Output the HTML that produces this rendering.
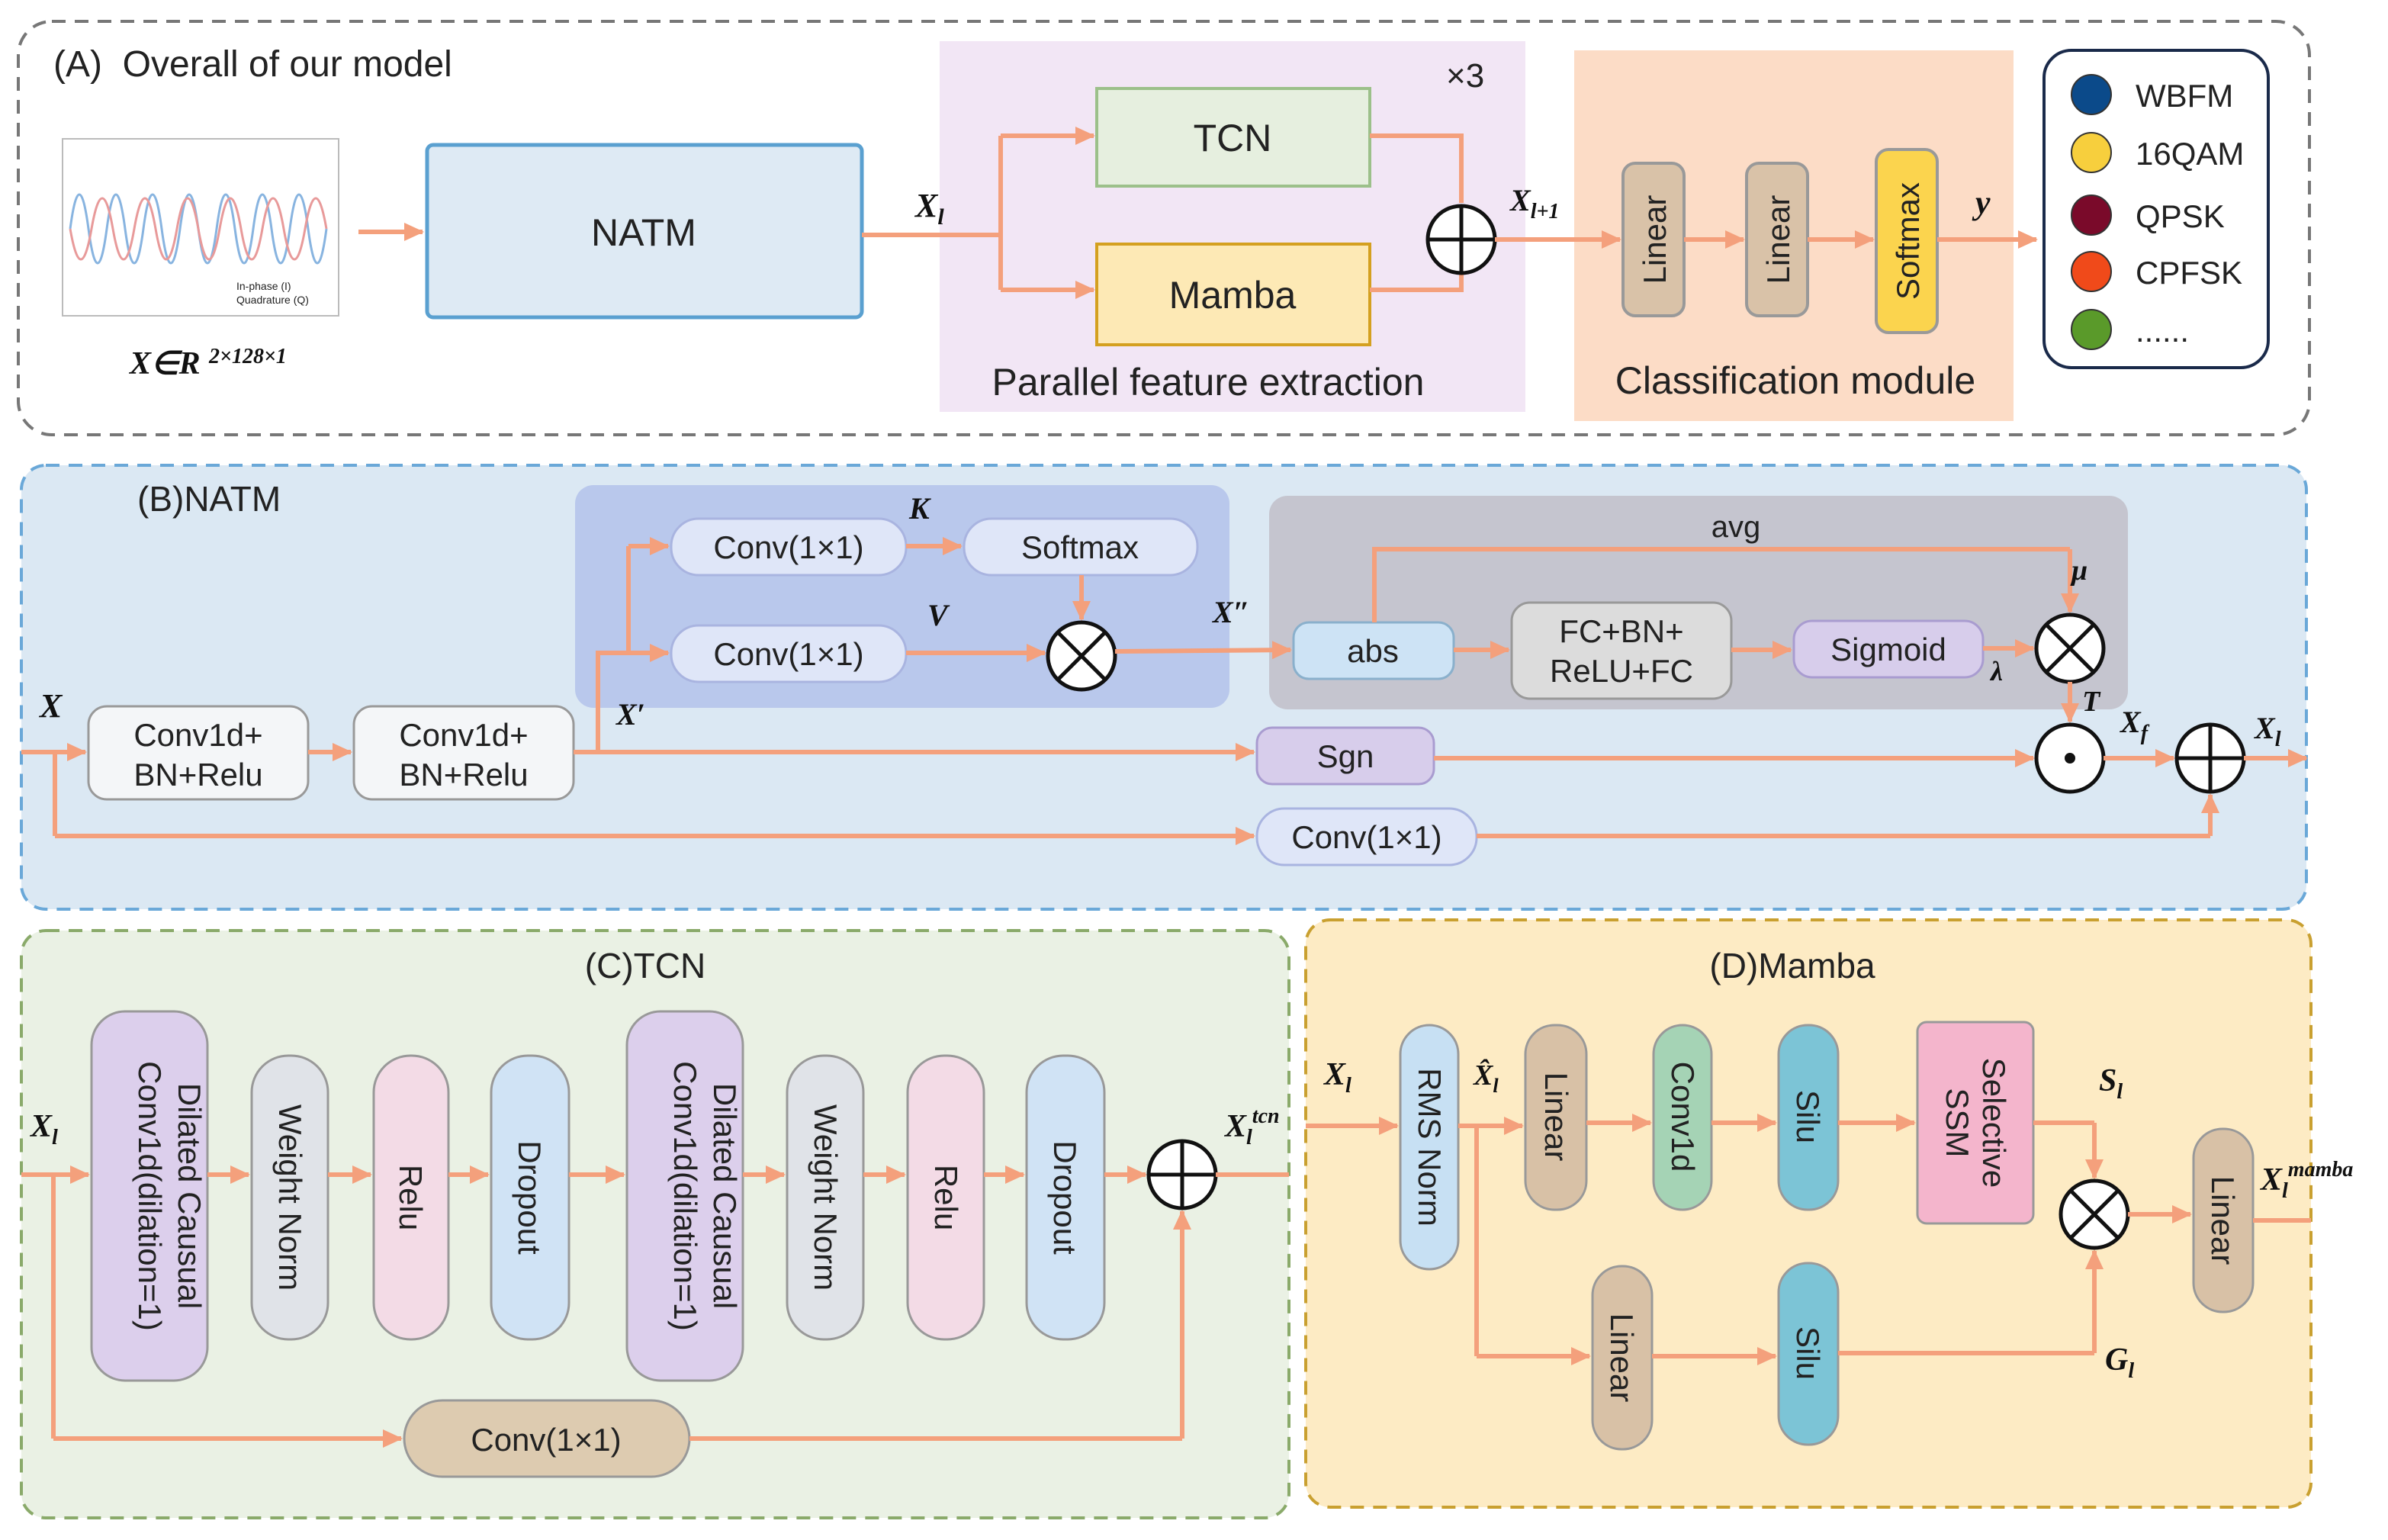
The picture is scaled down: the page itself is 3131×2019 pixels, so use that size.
<!DOCTYPE html>
<html><head><meta charset="utf-8"><style>
html,body{margin:0;padding:0;background:#fff}
svg{display:block}
text{font-family:"Liberation Sans","DejaVu Sans",sans-serif;fill:#222}
.m{font-family:"Liberation Serif",serif;font-style:italic;font-weight:bold;fill:#111}
.ln{stroke:#f4a07c;stroke-width:3;fill:none}
</style></head><body>
<svg width="3131" height="2019" viewBox="0 0 1565.5 1009.5" xmlns="http://www.w3.org/2000/svg">
<defs>
<marker id="a" markerUnits="userSpaceOnUse" markerWidth="14" markerHeight="12" refX="12" refY="6" orient="auto"><path d="M0,0 L13,6 L0,12 z" fill="#f4a07c"/></marker>
</defs>

<!-- Panel A -->
<rect x="12" y="14" width="1502" height="271" rx="22" fill="#fff" stroke="#777" stroke-width="2" stroke-dasharray="9,6"/>
<text x="35" y="50" font-size="24">(A) &#160;Overall of our model</text>
<rect x="41" y="91" width="181" height="116" fill="#fff" stroke="#bbb"/>
<path d="M46,150 q6,-45 12,0 t12,0 t12,0 t12,0 t12,0 t12,0 t12,0 t12,0 t12,0 t12,0 t12,0 t12,0 t12,0 t12,0" fill="none" stroke="#88b4e0" stroke-width="1.5"/>
<path d="M46,150 q7,40 14,0 t14,0 t14,0 t14,0 t14,0 t14,0 t14,0 t14,0 t14,0 t14,0 t14,0 t14,0" fill="none" stroke="#e89a9a" stroke-width="1.5"/>
<text x="155" y="190" font-size="7">In-phase (I)</text>
<text x="155" y="199" font-size="7">Quadrature (Q)</text>
<text x="85" y="245" font-size="21" class="m">X∈R</text><text x="137" y="238" font-size="14" class="m">2×128×1</text>
<line x1="235" y1="152" x2="277" y2="152" class="ln" stroke-width="4" marker-end="url(#a)"/>
<rect x="280" y="95" width="285" height="113" rx="4" fill="#deeaf4" stroke="#5aa0d0" stroke-width="2.5"/>
<text x="422" y="161" font-size="25" text-anchor="middle">NATM</text>
<rect x="616" y="27" width="384" height="243" fill="#f2e6f5"/>
<text x="948" y="57" font-size="22">×3</text>
<rect x="719" y="58" width="179" height="64" fill="#e6efdf" stroke="#9cc08a" stroke-width="2"/>
<text x="808" y="99" font-size="25" text-anchor="middle">TCN</text>
<rect x="719" y="160" width="179" height="66" fill="#fde9b5" stroke="#d4a020" stroke-width="2"/>
<text x="808" y="202" font-size="25" text-anchor="middle">Mamba</text>
<path d="M565,154 H656 M656,89 V190" class="ln"/>
<line x1="656" y1="89" x2="717" y2="89" class="ln" marker-end="url(#a)"/>
<line x1="656" y1="190" x2="717" y2="190" class="ln" marker-end="url(#a)"/>
<path d="M898,89 H958 V133" class="ln"/>
<path d="M898,190 H958 V180" class="ln"/>
<text x="600" y="142" font-size="22" class="m">X<tspan font-size="15" dy="5">l</tspan></text>
<circle cx="958" cy="157" r="22" fill="#fff" stroke="#111" stroke-width="2.5"/>
<path d="M936,157 H980 M958,135 V179" stroke="#111" stroke-width="2.5"/>
<text x="792" y="259" font-size="25" text-anchor="middle">Parallel feature extraction</text>
<rect x="1032" y="33" width="288" height="243" fill="#fcdcc6"/>
<line x1="980" y1="157" x2="1062" y2="157" class="ln" marker-end="url(#a)"/>
<text x="990" y="138" font-size="20" class="m">X<tspan font-size="14" dy="5">l+1</tspan></text>
<rect x="1064" y="107" width="40" height="100" rx="8" fill="#d9c2a8" stroke="#999" stroke-width="2"/>
<text transform="translate(1092,157) rotate(-90)" font-size="21" text-anchor="middle">Linear</text>
<rect x="1145" y="107" width="40" height="100" rx="8" fill="#d9c2a8" stroke="#999" stroke-width="2"/>
<text transform="translate(1173,157) rotate(-90)" font-size="21" text-anchor="middle">Linear</text>
<rect x="1230" y="98" width="40" height="120" rx="8" fill="#fbd44e" stroke="#999" stroke-width="2"/>
<text transform="translate(1258,158) rotate(-90)" font-size="21" text-anchor="middle">Softmax</text>
<line x1="1104" y1="157" x2="1143" y2="157" class="ln" marker-end="url(#a)"/>
<line x1="1185" y1="157" x2="1228" y2="157" class="ln" marker-end="url(#a)"/>
<line x1="1270" y1="157" x2="1335" y2="157" class="ln" marker-end="url(#a)"/>
<text x="1295" y="140" font-size="22" class="m">y</text>
<text x="1177" y="258" font-size="25" text-anchor="middle">Classification module</text>
<rect x="1340" y="33" width="147" height="208" rx="18" fill="#fff" stroke="#1a2a4a" stroke-width="2"/>
<circle cx="1371" cy="62" r="13" fill="#0b4a8a" stroke="#333"/><text x="1400" y="70" font-size="21">WBFM</text>
<circle cx="1371" cy="100" r="13" fill="#f7cf3d" stroke="#333"/><text x="1400" y="108" font-size="21">16QAM</text>
<circle cx="1371" cy="141" r="13" fill="#7a0a2a" stroke="#333"/><text x="1400" y="149" font-size="21">QPSK</text>
<circle cx="1371" cy="178" r="13" fill="#f04a1a" stroke="#333"/><text x="1400" y="186" font-size="21">CPFSK</text>
<circle cx="1371" cy="216" r="13" fill="#5a9a2a" stroke="#333"/><text x="1400" y="224" font-size="21">......</text>

<!-- Panel B -->
<rect x="14" y="305" width="1498" height="291" rx="16" fill="#dbe8f3" stroke="#6aa8d8" stroke-width="2" stroke-dasharray="9,6"/>
<text x="90" y="335" font-size="23">(B)NATM</text>
<rect x="377" y="318" width="429" height="146" rx="12" fill="#b9c8ec"/>
<rect x="832" y="325" width="563" height="140" rx="12" fill="#c5c5cf"/>
<text x="26" y="470" font-size="22" class="m">X</text>
<line x1="14" y1="493" x2="56" y2="493" class="ln" marker-end="url(#a)"/>
<rect x="58" y="463" width="144" height="61" rx="12" fill="#f4f6f8" stroke="#999" stroke-width="1.5"/>
<text x="130" y="489" font-size="21" text-anchor="middle">Conv1d+</text><text x="130" y="515" font-size="21" text-anchor="middle">BN+Relu</text>
<line x1="202" y1="493" x2="230" y2="493" class="ln" marker-end="url(#a)"/>
<rect x="232" y="463" width="144" height="61" rx="12" fill="#f4f6f8" stroke="#999" stroke-width="1.5"/>
<text x="304" y="489" font-size="21" text-anchor="middle">Conv1d+</text><text x="304" y="515" font-size="21" text-anchor="middle">BN+Relu</text>
<line x1="376" y1="493" x2="822" y2="493" class="ln" marker-end="url(#a)"/>
<text x="404" y="475" font-size="20" class="m">X′</text>
<path d="M392,493 V428 H412 M412,428 V358" class="ln"/>
<line x1="412" y1="358" x2="438" y2="358" class="ln" marker-end="url(#a)"/>
<line x1="412" y1="428" x2="438" y2="428" class="ln" marker-end="url(#a)"/>
<rect x="440" y="340" width="154" height="37" rx="18" fill="#dfe6f8" stroke="#a9b4e0" stroke-width="1.5"/>
<text x="517" y="366" font-size="21" text-anchor="middle">Conv(1×1)</text>
<rect x="440" y="410" width="154" height="37" rx="18" fill="#dfe6f8" stroke="#a9b4e0" stroke-width="1.5"/>
<text x="517" y="436" font-size="21" text-anchor="middle">Conv(1×1)</text>
<text x="596" y="340" font-size="20" class="m">K</text>
<text x="608" y="410" font-size="20" class="m">V</text>
<line x1="594" y1="358" x2="630" y2="358" class="ln" marker-end="url(#a)"/>
<rect x="632" y="340" width="153" height="37" rx="18" fill="#dfe6f8" stroke="#a9b4e0" stroke-width="1.5"/>
<text x="708" y="366" font-size="21" text-anchor="middle">Softmax</text>
<line x1="709" y1="377" x2="709" y2="406" class="ln" marker-end="url(#a)"/>
<line x1="594" y1="428" x2="685" y2="428" class="ln" marker-end="url(#a)"/>
<circle cx="709" cy="430" r="22" fill="#fff" stroke="#111" stroke-width="2.5"/>
<path d="M693,414 L725,446 M725,414 L693,446" stroke="#111" stroke-width="2.5"/>
<line x1="731" y1="427" x2="846" y2="426" class="ln" marker-end="url(#a)"/>
<text x="795" y="408" font-size="20" class="m">X″</text>
<rect x="848" y="408" width="105" height="37" rx="10" fill="#cde3f5" stroke="#8ab0cc" stroke-width="1.5"/>
<text x="900" y="434" font-size="21" text-anchor="middle">abs</text>
<line x1="953" y1="426" x2="989" y2="426" class="ln" marker-end="url(#a)"/>
<rect x="991" y="395" width="144" height="63" rx="12" fill="#dcdcdc" stroke="#999" stroke-width="1.5"/>
<text x="1063" y="421" font-size="21" text-anchor="middle">FC+BN+</text><text x="1063" y="447" font-size="21" text-anchor="middle">ReLU+FC</text>
<line x1="1135" y1="426" x2="1174" y2="426" class="ln" marker-end="url(#a)"/>
<rect x="1176" y="407" width="124" height="37" rx="12" fill="#d7cdeb" stroke="#a99cd0" stroke-width="1.5"/>
<text x="1238" y="433" font-size="21" text-anchor="middle">Sigmoid</text>
<line x1="1300" y1="425" x2="1333" y2="425" class="ln" marker-end="url(#a)"/>
<text x="1305" y="446" font-size="18" class="m">λ</text>
<path d="M901,408 V360 H1357" class="ln"/>
<line x1="1357" y1="360" x2="1357" y2="401" class="ln" marker-end="url(#a)"/>
<text x="1138" y="352" font-size="20" text-anchor="middle">avg</text>
<text x="1358" y="380" font-size="19" class="m">μ</text>
<circle cx="1357" cy="425" r="22" fill="#fff" stroke="#111" stroke-width="2.5"/>
<path d="M1341,409 L1373,441 M1373,409 L1341,441" stroke="#111" stroke-width="2.5"/>
<line x1="1357" y1="447" x2="1357" y2="473" class="ln" marker-end="url(#a)"/>
<text x="1365" y="466" font-size="19" class="m">T</text>
<rect x="824" y="477" width="116" height="37" rx="10" fill="#d7cdeb" stroke="#a99cd0" stroke-width="1.5"/>
<text x="882" y="503" font-size="21" text-anchor="middle">Sgn</text>
<line x1="940" y1="497" x2="1333" y2="497" class="ln" marker-end="url(#a)"/>
<circle cx="1357" cy="497" r="22" fill="#fff" stroke="#111" stroke-width="2.5"/>
<circle cx="1357" cy="497" r="3.5" fill="#111"/>
<line x1="1379" y1="497" x2="1425" y2="497" class="ln" marker-end="url(#a)"/>
<text x="1390" y="480" font-size="20" class="m">X<tspan font-size="14" dy="5">f</tspan></text>
<circle cx="1449" cy="497" r="22" fill="#fff" stroke="#111" stroke-width="2.5"/>
<path d="M1427,497 H1471 M1449,475 V519" stroke="#111" stroke-width="2.5"/>
<line x1="1471" y1="497" x2="1512" y2="497" class="ln" marker-end="url(#a)"/>
<text x="1478" y="484" font-size="20" class="m">X<tspan font-size="14" dy="5">l</tspan></text>
<path d="M36,493 V548" class="ln"/>
<line x1="36" y1="548" x2="822" y2="548" class="ln" marker-end="url(#a)"/>
<rect x="824" y="530" width="144" height="37" rx="18" fill="#dfe6f8" stroke="#a9b4e0" stroke-width="1.5"/>
<text x="896" y="556" font-size="21" text-anchor="middle">Conv(1×1)</text>
<path d="M968,548 H1449" class="ln"/>
<line x1="1449" y1="548" x2="1449" y2="521" class="ln" marker-end="url(#a)"/>

<!-- Panel C -->
<rect x="14" y="610" width="831" height="385" rx="16" fill="#eaf1e4" stroke="#8aaa6a" stroke-width="2" stroke-dasharray="9,6"/>
<text x="423" y="641" font-size="23" text-anchor="middle">(C)TCN</text>
<text x="20" y="745" font-size="21" class="m">X<tspan font-size="14" dy="5">l</tspan></text>
<line x1="14" y1="770" x2="58" y2="770" class="ln" marker-end="url(#a)"/>
<g font-size="21">
<rect x="60" y="663" width="76" height="242" rx="22" fill="#dccfec" stroke="#999" stroke-width="1.5"/>
<text transform="translate(104,784) rotate(90)" text-anchor="middle" x="0" y="-13">Dilated Causual</text>
<text transform="translate(104,784) rotate(90)" text-anchor="middle" x="0" y="13">Conv1d(dilation=1)</text>
<rect x="165" y="692" width="50" height="186" rx="24" fill="#e0e3e8" stroke="#999" stroke-width="1.5"/>
<text transform="translate(183,785) rotate(90)" text-anchor="middle">Weight Norm</text>
<rect x="245" y="692" width="49" height="186" rx="24" fill="#f3dbe6" stroke="#999" stroke-width="1.5"/>
<text transform="translate(262,785) rotate(90)" text-anchor="middle">Relu</text>
<rect x="322" y="692" width="51" height="186" rx="24" fill="#d0e3f5" stroke="#999" stroke-width="1.5"/>
<text transform="translate(340,785) rotate(90)" text-anchor="middle">Dropout</text>
<rect x="411" y="663" width="76" height="242" rx="22" fill="#dccfec" stroke="#999" stroke-width="1.5"/>
<text transform="translate(455,784) rotate(90)" text-anchor="middle" x="0" y="-13">Dilated Causual</text>
<text transform="translate(455,784) rotate(90)" text-anchor="middle" x="0" y="13">Conv1d(dilation=1)</text>
<rect x="516" y="692" width="50" height="186" rx="24" fill="#e0e3e8" stroke="#999" stroke-width="1.5"/>
<text transform="translate(534,785) rotate(90)" text-anchor="middle">Weight Norm</text>
<rect x="595" y="692" width="50" height="186" rx="24" fill="#f3dbe6" stroke="#999" stroke-width="1.5"/>
<text transform="translate(613,785) rotate(90)" text-anchor="middle">Relu</text>
<rect x="673" y="692" width="51" height="186" rx="24" fill="#d0e3f5" stroke="#999" stroke-width="1.5"/>
<text transform="translate(691,785) rotate(90)" text-anchor="middle">Dropout</text>
</g>
<line x1="136" y1="770" x2="163" y2="770" class="ln" marker-end="url(#a)"/>
<line x1="215" y1="770" x2="243" y2="770" class="ln" marker-end="url(#a)"/>
<line x1="294" y1="770" x2="320" y2="770" class="ln" marker-end="url(#a)"/>
<line x1="373" y1="770" x2="409" y2="770" class="ln" marker-end="url(#a)"/>
<line x1="487" y1="770" x2="514" y2="770" class="ln" marker-end="url(#a)"/>
<line x1="566" y1="770" x2="593" y2="770" class="ln" marker-end="url(#a)"/>
<line x1="645" y1="770" x2="671" y2="770" class="ln" marker-end="url(#a)"/>
<line x1="724" y1="770" x2="751" y2="770" class="ln" marker-end="url(#a)"/>
<circle cx="775" cy="770" r="22" fill="#fff" stroke="#111" stroke-width="2.5"/>
<path d="M753,770 H797 M775,748 V792" stroke="#111" stroke-width="2.5"/>
<line x1="797" y1="770" x2="845" y2="770" class="ln"/>
<text x="803" y="745" font-size="21" class="m">X<tspan font-size="14" dy="5">l</tspan><tspan font-size="14" dy="-14">tcn</tspan></text>
<path d="M35,770 V943" class="ln"/>
<line x1="35" y1="943" x2="263" y2="943" class="ln" marker-end="url(#a)"/>
<rect x="265" y="918" width="187" height="50" rx="25" fill="#ddcbb0" stroke="#999" stroke-width="1.5"/>
<text x="358" y="951" font-size="21" text-anchor="middle">Conv(1×1)</text>
<path d="M452,943 H775" class="ln"/>
<line x1="775" y1="943" x2="775" y2="794" class="ln" marker-end="url(#a)"/>

<!-- Panel D -->
<rect x="856" y="603" width="659" height="385" rx="16" fill="#fdebc4" stroke="#c9a030" stroke-width="2" stroke-dasharray="9,6"/>
<text x="1175" y="641" font-size="23" text-anchor="middle">(D)Mamba</text>
<text x="868" y="711" font-size="21" class="m">X<tspan font-size="14" dy="5">l</tspan></text>
<line x1="856" y1="738" x2="916" y2="738" class="ln" marker-end="url(#a)"/>
<g font-size="21">
<rect x="918" y="672" width="38" height="160" rx="19" fill="#c7e0f3" stroke="#999" stroke-width="1.5"/>
<text transform="translate(930,752) rotate(90)" text-anchor="middle">RMS Norm</text>
<rect x="1000" y="672" width="40" height="121" rx="19" fill="#d8c1a6" stroke="#999" stroke-width="1.5"/>
<text transform="translate(1013,732) rotate(90)" text-anchor="middle">Linear</text>
<rect x="1084" y="672" width="38" height="121" rx="19" fill="#a5d3b5" stroke="#999" stroke-width="1.5"/>
<text transform="translate(1096,732) rotate(90)" text-anchor="middle">Conv1d</text>
<rect x="1166" y="672" width="39" height="121" rx="19" fill="#7cc4d6" stroke="#999" stroke-width="1.5"/>
<text transform="translate(1178,732) rotate(90)" text-anchor="middle">Silu</text>
<rect x="1257" y="670" width="76" height="132" rx="6" fill="#f4b5cc" stroke="#999" stroke-width="1.5"/>
<text transform="translate(1295,736) rotate(90)" text-anchor="middle" y="-5">Selective</text>
<text transform="translate(1295,736) rotate(90)" text-anchor="middle" y="19">SSM</text>
<rect x="1044" y="830" width="39" height="120" rx="19" fill="#d8c1a6" stroke="#999" stroke-width="1.5"/>
<text transform="translate(1056,890) rotate(90)" text-anchor="middle">Linear</text>
<rect x="1166" y="828" width="39" height="119" rx="19" fill="#7cc4d6" stroke="#999" stroke-width="1.5"/>
<text transform="translate(1178,887) rotate(90)" text-anchor="middle">Silu</text>
<rect x="1438" y="740" width="39" height="120" rx="19" fill="#d8c1a6" stroke="#999" stroke-width="1.5"/>
<text transform="translate(1450,800) rotate(90)" text-anchor="middle">Linear</text>
</g>
<text x="966" y="711" font-size="19" class="m">X̂<tspan font-size="13" dy="5">l</tspan></text>
<line x1="956" y1="738" x2="998" y2="738" class="ln" marker-end="url(#a)"/>
<path d="M968,738 V889" class="ln"/>
<line x1="968" y1="889" x2="1042" y2="889" class="ln" marker-end="url(#a)"/>
<line x1="1040" y1="736" x2="1082" y2="736" class="ln" marker-end="url(#a)"/>
<line x1="1122" y1="736" x2="1164" y2="736" class="ln" marker-end="url(#a)"/>
<line x1="1205" y1="736" x2="1255" y2="736" class="ln" marker-end="url(#a)"/>
<line x1="1083" y1="889" x2="1164" y2="889" class="ln" marker-end="url(#a)"/>
<path d="M1333,736 H1373" class="ln"/>
<line x1="1373" y1="736" x2="1373" y2="772" class="ln" marker-end="url(#a)"/>
<text x="1376" y="715" font-size="21" class="m">S<tspan font-size="14" dy="5">l</tspan></text>
<path d="M1205,887 H1373" class="ln"/>
<line x1="1373" y1="887" x2="1373" y2="820" class="ln" marker-end="url(#a)"/>
<text x="1380" y="898" font-size="21" class="m">G<tspan font-size="14" dy="5">l</tspan></text>
<circle cx="1373" cy="796" r="22" fill="#fff" stroke="#111" stroke-width="2.5"/>
<path d="M1357,780 L1389,812 M1389,780 L1357,812" stroke="#111" stroke-width="2.5"/>
<line x1="1395" y1="796" x2="1436" y2="796" class="ln" marker-end="url(#a)"/>
<line x1="1477" y1="800" x2="1515" y2="800" class="ln"/>
<text x="1482" y="780" font-size="21" class="m">X<tspan font-size="14" dy="5">l</tspan><tspan font-size="14" dy="-14">mamba</tspan></text>
</svg>
</body></html>
